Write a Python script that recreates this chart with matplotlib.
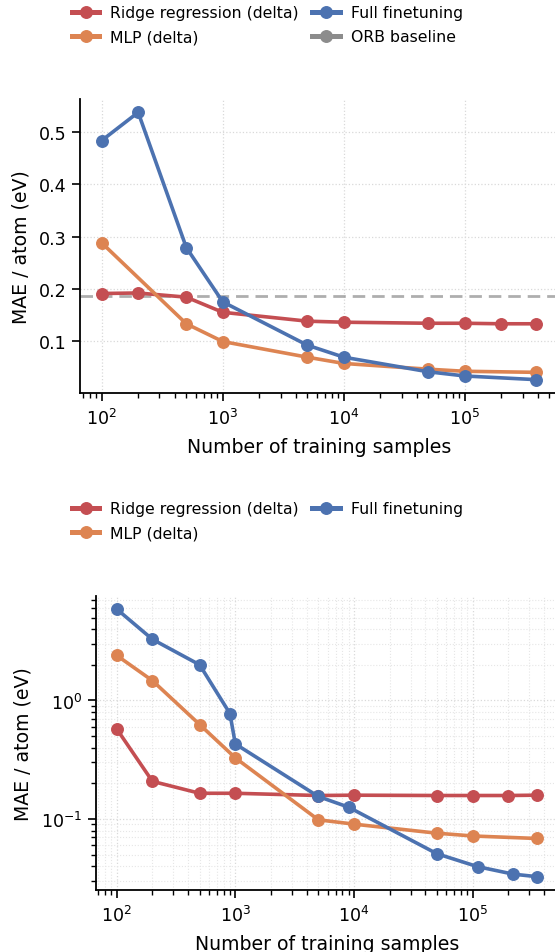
import matplotlib
matplotlib.use("Agg")
import matplotlib.pyplot as plt
from matplotlib.lines import Line2D

# ---- data: top panel ----
top_ridge_x = [100, 200, 500, 1000, 5000, 10000, 50000, 100000, 200000, 387000]
top_ridge_y = [0.191, 0.192, 0.184, 0.155, 0.138, 0.136, 0.134, 0.134, 0.133, 0.133]
top_mlp_x = [100, 500, 1000, 5000, 10000, 50000, 100000, 387000]
top_mlp_y = [0.288, 0.133, 0.099, 0.069, 0.057, 0.046, 0.042, 0.040]
top_full_x = [100, 200, 500, 1000, 5000, 10000, 50000, 100000, 387000]
top_full_y = [0.484, 0.538, 0.279, 0.175, 0.092, 0.069, 0.041, 0.033, 0.026]
orb_baseline = 0.187

# ---- data: bottom panel ----
bot_ridge_x = [100, 200, 500, 1000, 5000, 10000, 50000, 100000, 200000, 346000]
bot_ridge_y = [0.576, 0.208, 0.165, 0.165, 0.158, 0.159, 0.158, 0.158, 0.158, 0.159]
bot_mlp_x = [100, 200, 500, 1000, 5000, 10000, 50000, 100000, 346000]
bot_mlp_y = [2.40, 1.47, 0.627, 0.328, 0.0986, 0.0906, 0.076, 0.072, 0.0686]
bot_full_x = [100, 200, 500, 900, 1000, 5000, 9000, 50000, 110000, 220000, 346000]
bot_full_y = [5.9, 3.28, 2.0, 0.776, 0.43, 0.155, 0.126, 0.051, 0.0397, 0.0343, 0.0327]

labels = ["Ridge regression (delta)", "MLP (delta)", "Full finetuning", "ORB baseline"]
RED, ORANGE, BLUE, GRAY = "#C44E52", "#DD8452", "#4C72B0", "#8C8C8C"

LW, MS = 2.6, 8.3
TICK_FS, LABEL_FS, LEG_FS = 12.6, 13.6, 11.3

fig = plt.figure(figsize=(5.55, 9.53), dpi=100)
W, H = 555.0, 953.0

def style(ax, minor_grid=False):
    for s in ["top", "right"]:
        ax.spines[s].set_visible(False)
    for s in ["left", "bottom"]:
        ax.spines[s].set_linewidth(1.3)
        ax.spines[s].set_color("black")
    ax.tick_params(which="major", length=6, width=1.2, labelsize=TICK_FS, color="black")
    ax.tick_params(axis="x", which="major", pad=5)
    ax.tick_params(which="minor", length=3.5, width=1.0, color="black")
    ax.grid(True, which="major", linestyle=":", color="#d9d9d9", linewidth=0.9)
    if minor_grid:
        ax.grid(True, which="minor", linestyle=":", color="#e6e6e6", linewidth=0.8)
    ax.set_axisbelow(True)

def plot_series(ax, xs, ys, color):
    ax.plot(xs, ys, color=color, lw=LW, marker="o", ms=MS, solid_capstyle="round")

# top axes
ax1 = fig.add_axes([80 / W, (H - 394) / H, (557.7 - 80) / W, (394 - 100) / H])
plot_series(ax1, top_ridge_x, top_ridge_y, RED)
plot_series(ax1, top_mlp_x, top_mlp_y, ORANGE)
plot_series(ax1, top_full_x, top_full_y, BLUE)
ax1.set_xscale("log")
ax1.axhline(orb_baseline, color=GRAY, lw=2.0, ls=(0, (4.5, 2.5)), alpha=0.7, zorder=1)
ax1.set_xlabel("Number of training samples", fontsize=LABEL_FS, labelpad=6)
ax1.set_ylabel("MAE / atom (eV)", fontsize=LABEL_FS, labelpad=6)
ax1.set_yticks([0.1, 0.2, 0.3, 0.4, 0.5])
style(ax1)

# bottom axes
ax2 = fig.add_axes([95.7 / W, (H - 891) / H, (557.6 - 95.7) / W, (891 - 596.7) / H])
plot_series(ax2, bot_ridge_x, bot_ridge_y, RED)
plot_series(ax2, bot_mlp_x, bot_mlp_y, ORANGE)
plot_series(ax2, bot_full_x, bot_full_y, BLUE)
ax2.set_xscale("log")
ax2.set_yscale("log")
ax2.set_xlabel("Number of training samples", fontsize=LABEL_FS, labelpad=6)
ax2.set_ylabel("MAE / atom (eV)", fontsize=LABEL_FS, labelpad=6)
style(ax2, minor_grid=True)

def handle(c):
    return Line2D([0], [0], color=c, lw=3.6, marker="o", ms=MS)

leg_kw = dict(frameon=False, ncol=2, fontsize=LEG_FS, loc="upper left",
              handlelength=1.75, handletextpad=0.7, columnspacing=0.85,
              labelspacing=0.6, borderaxespad=0, borderpad=0)
h_top = [handle(RED), handle(ORANGE), handle(BLUE), handle(GRAY)]
fig.legend(h_top, labels, bbox_to_anchor=(72 / W, 1 - 6 / H), **leg_kw)
h_bot = [handle(RED), handle(ORANGE), handle(BLUE)]
fig.legend(h_bot, labels[:3], bbox_to_anchor=(72 / W, 1 - 502 / H), **leg_kw)

fig.savefig("out.png", dpi=100)
